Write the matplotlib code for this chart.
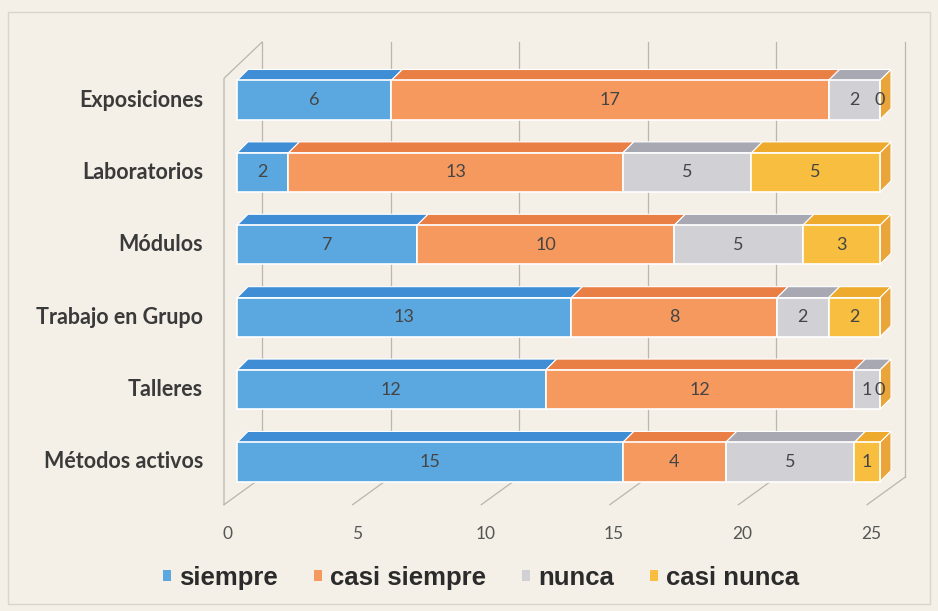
import numpy as np
import matplotlib
matplotlib.use('Agg')
import matplotlib.pyplot as plt
from matplotlib.patches import Polygon, Patch, Rectangle

# data
categorias = ['Exposiciones', 'Laboratorios', 'Módulos', 'Trabajo en Grupo', 'Talleres', 'Métodos activos']
series = ['siempre', 'casi siempre', 'nunca', 'casi nunca']
siempre = [6, 2, 7, 13, 12, 15]
casi_siempre = [17, 13, 10, 8, 12, 4]
nunca = [2, 5, 5, 2, 1, 5]
casi_nunca = [0, 5, 3, 2, 0, 1]
ticks = [0, 5, 10, 15, 20, 25]

front = ['#5ba8e0', '#f5995f', '#d1d0d4', '#f7be3f']
top = ['#3f8dd4', '#ea7f46', '#a7a8b1', '#eeaa2c']
side = '#e9a53a'
bg = '#f4f0e7'
wall = '#b9b6ae'

fig = plt.figure(figsize=(9.38, 6.11), dpi=100, facecolor=bg)
fig.patches.append(Rectangle((0.009, 0.012), 0.982, 0.968, transform=fig.transFigure,
                             fill=False, edgecolor='#d9d5cc', lw=1))
ax = fig.add_axes([0.2362, 0.155, 0.7349, 0.782])
ax.set_xlim(-0.6, 26.2)
ax.set_ylim(5.75, -0.85)
ax.axis('off')

# pixel -> data conversions for the fake 3D depth
px_x = 25 / 643
px_y = 1 / 72.4
dx, dy = 11 * px_x, 11 * px_y
h = 0.54

# walls and gridlines
back = 25 * px_x
fx = -13 * px_x
y_top_back, y_bot_back, y_bot_front, y_top_front = -0.80, 5.21, 5.59, -0.30
for v in ticks:
    ax.plot([v + back, v + back], [y_top_back, y_bot_back], color=wall, lw=0.9, zorder=0)
    ax.plot([v + fx, v + back], [y_bot_front, y_bot_back], color=wall, lw=0.9, zorder=0)
    ax.text(v - 9 * px_x, 6.0, str(v), ha='center', va='center', fontsize=12.5,
            color='#555555', family='Lato')
ax.plot([fx, fx, 0 + back], [y_bot_front, y_top_front, y_top_back], color=wall, lw=0.9, zorder=0)

data = np.array([siempre, casi_siempre, nunca, casi_nunca])
y = np.arange(len(categorias))
left = np.zeros(len(categorias))
for k in range(len(series)):
    vals = data[k]
    ax.barh(y, vals, left=left, height=h, color=front[k], edgecolor='white', lw=1.2, zorder=3)
    for i in range(len(categorias)):
        a, b = left[i], left[i] + vals[i]
        yt = y[i] - h / 2
        ax.add_patch(Polygon([(a, yt), (b, yt), (b + dx, yt - dy), (a + dx, yt - dy)],
                             closed=True, facecolor=top[k], edgecolor='white', lw=0.8, zorder=2))
        ax.text((a + b) / 2, y[i], str(vals[i]), ha='center', va='center', fontsize=13,
                color='#454545', family='Lato', zorder=5)
    left = left + vals

for i in range(len(categorias)):
    e = left[i]
    yt, yb = y[i] - h / 2, y[i] + h / 2
    ax.add_patch(Polygon([(e, yt), (e + dx, yt - dy), (e + dx, yb - dy), (e, yb)],
                         closed=True, facecolor=side, edgecolor='white', lw=0.8, zorder=2))
    ax.text(-34 * px_x, y[i], categorias[i], ha='right', va='center', fontsize=15.5,
            fontweight='bold', color='#3a3a3a', family='Lato')

handles = [Patch(facecolor=c, edgecolor='none') for c in front]
leg = fig.legend(handles, series, loc='center', bbox_to_anchor=(0.513, 0.054), ncol=4, frameon=False,
                 handlelength=0.3, handleheight=0.3, handletextpad=0.32, columnspacing=1.4,
                 prop={'family': 'Liberation Sans', 'weight': 'bold', 'size': 18.5})
for t in leg.get_texts():
    t.set_color('#2b2b2b')

fig.savefig('out.png', dpi=100, facecolor=bg)
